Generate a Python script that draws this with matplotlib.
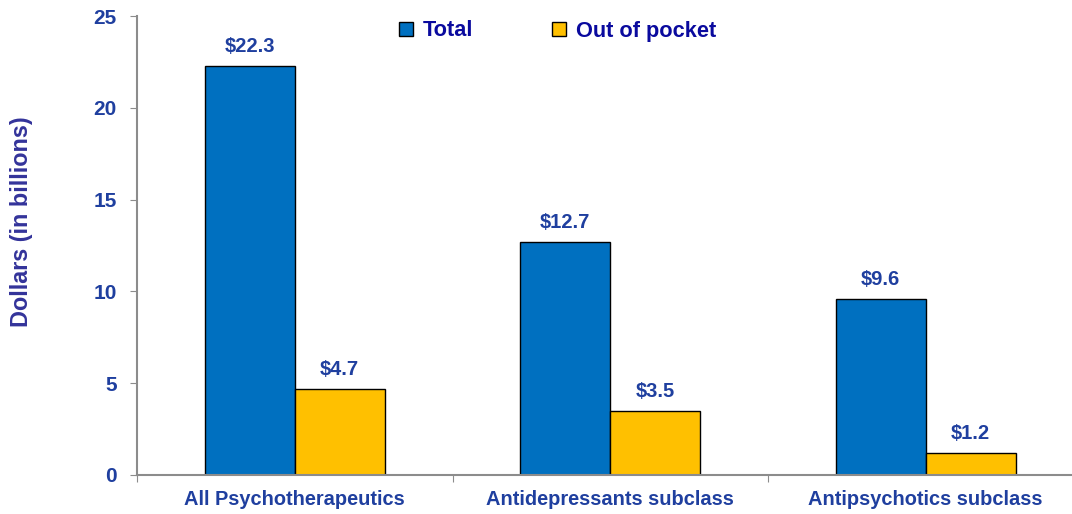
import matplotlib.pyplot as plt
import numpy as np

plt.rcParams['font.family'] = ['Liberation Sans', 'DejaVu Sans']

categories = ["All Psychotherapeutics", "Antidepressants subclass", "Antipsychotics subclass"]
total = [22.3, 12.7, 9.6]
out_of_pocket = [4.7, 3.5, 1.2]
series_names = ["Total", "Out of pocket"]
y_ticks = [0, 5, 10, 15, 20, 25]

blue = "#0070C0"
gold = "#FFC000"
tick_color = "#1F3F9F"
legend_color = "#0A0A9E"
ylabel_color = "#33339A"
spine_color = "#8C8C8C"

fig = plt.figure(figsize=(10.72, 5.14), dpi=100)
ax = fig.add_axes([137 / 1072, 39 / 514, 946.5 / 1072, 459 / 514])

x = np.arange(len(categories)) + 0.5
w = 0.285
b1 = ax.bar(x - w / 2, total, w, color=blue, edgecolor="black", linewidth=1.0, label=series_names[0])
b2 = ax.bar(x + w / 2, out_of_pocket, w, color=gold, edgecolor="black", linewidth=1.0, label=series_names[1])

# value labels above each bar
for bars, vals in ((b1, total), (b2, out_of_pocket)):
    for rect, v in zip(bars, vals):
        ax.annotate(f"${v}", (rect.get_x() + rect.get_width() / 2, v),
                    xytext=(0, 7), textcoords="offset points",
                    ha="center", va="bottom", fontsize=14.5, fontweight="bold",
                    color=tick_color)

ax.set_xlim(0, len(categories))
ax.set_ylim(0, 25)
ax.set_yticks(y_ticks)
ax.set_yticklabels([str(t) for t in y_ticks], fontsize=15, fontweight="bold", color=tick_color)

# separator ticks between groups, category names centred under each group
ax.set_xticks(np.arange(len(categories) + 1))
ax.set_xticklabels([])
ax.set_xticks(x, minor=True)
ax.set_xticklabels(categories, minor=True, fontsize=14.4, fontweight="bold", color=tick_color)
ax.tick_params(axis="x", which="minor", length=0, pad=11)
ax.tick_params(axis="x", which="major", length=5, color=spine_color, direction="out")
ax.tick_params(axis="y", length=5, color=spine_color, direction="out", pad=9.5)

for s in ("top", "right"):
    ax.spines[s].set_visible(False)
for s in ("left", "bottom"):
    ax.spines[s].set_color(spine_color)
    ax.spines[s].set_linewidth(1.5)

fig.text(22 / 1072, 1 - 222 / 514, "Dollars (in billions)", rotation=90,
         ha="center", va="center", fontsize=16.8, fontweight="bold", color=ylabel_color)

leg = fig.legend(handles=[b1, b2], labels=series_names, loc="center",
                 bbox_to_anchor=(557.5 / 1072, 1 - 31 / 514), ncol=2, frameon=False,
                 fontsize=15.7, handlelength=0.65, handleheight=0.65, columnspacing=3.6,
                 handletextpad=0.45)
for t in leg.get_texts():
    t.set_color(legend_color)
    t.set_fontweight("bold")

fig.savefig("out.png", dpi=100)
